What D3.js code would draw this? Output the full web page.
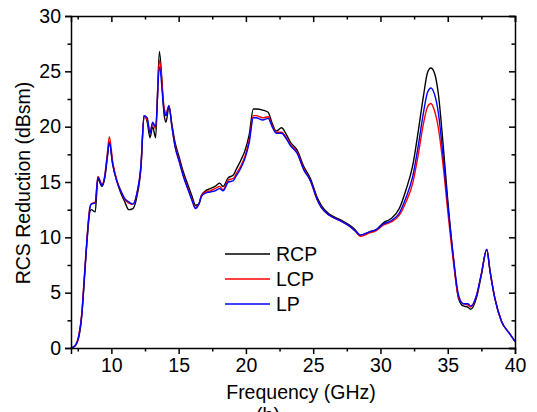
<!DOCTYPE html>
<html>
<head>
<meta charset="utf-8">
<script src="https://cdn.jsdelivr.net/npm/d3@7"></script>
<style>
  body { margin: 0; background: #fff; }
  svg { display: block; font-family: 'Liberation Sans', Arial, sans-serif; }
</style>
</head>
<body>
<div id="rcs-chart"></div>
<script>
'use strict';

// frequency samples (GHz)
const freq = [
  7.0, 7.3, 7.6, 7.8, 8.0, 8.2, 8.4, 8.5, 8.8, 9.0, 9.3, 9.5, 9.7, 9.85, 10.1,
  10.4, 10.7, 11.0, 11.3, 11.6, 11.9, 12.2, 12.43, 12.67, 12.87, 13.07, 13.29, 13.57,
  13.94, 14.06, 14.28, 14.5, 14.73, 15.05, 15.35, 15.7, 16.0, 16.25, 16.5, 16.7,
  17.0, 17.35, 17.7, 18.05, 18.3, 18.7, 19.05, 19.3, 19.6, 19.95, 20.25, 20.55,
  20.75, 21.25, 21.65, 21.95, 22.25, 22.65, 23.0, 23.3, 23.8, 24.3, 24.8, 25.3,
  25.6, 26.2, 27.0, 27.7, 28.1, 28.5, 29.2, 29.7, 30.2, 30.8, 31.4, 31.9, 32.4,
  32.8, 33.2, 33.5, 33.75, 34.0, 34.3, 34.65, 35.0, 35.4, 35.8, 36.15, 36.5, 36.7,
  37.15, 37.5, 37.9, 38.15, 38.5, 39.0, 39.6, 40.0
];

const rcp = [
  0.0, 0.2, 1.1, 2.9, 6.3, 9.8, 12.3, 12.5, 12.3, 15.3, 14.6, 15.3, 17.2, 18.6, 16.6,
  15.1, 14.0, 13.2, 12.5, 12.6, 13.7, 16.3, 21.0, 20.4, 19.0, 20.0, 19.0, 26.8,
  20.9, 20.4, 21.8, 20.2, 18.6, 17.2, 15.9, 14.7, 13.7, 12.9, 13.0, 13.8,
  14.2, 14.4, 14.6, 14.9, 14.6, 15.4, 15.6, 16.2, 16.9, 17.9, 19.3, 21.6,
  21.6, 21.5, 21.3, 20.3, 19.6, 19.9, 19.3, 18.6, 17.9, 16.4, 15.3, 13.6,
  12.9, 12.1, 11.6, 11.1, 10.7, 10.2, 10.5, 10.7, 11.3, 11.7, 12.6, 14.3, 16.5,
  19.5, 22.8, 24.9, 25.3, 24.9, 23.0, 18.5, 13.4, 8.4, 4.5, 3.8, 3.7, 3.5,
  4.6, 6.6, 8.9, 6.9, 4.5, 2.4, 1.3, 0.6
];

const lcp = [
  0.0, 0.2, 1.3, 3.1, 6.6, 10.1, 12.7, 13.0, 13.2, 15.5, 14.8, 15.5, 17.6, 19.1, 16.8,
  15.2, 14.2, 13.4, 13.1, 13.0, 14.0, 16.5, 21.0, 20.6, 19.5, 20.3, 19.8, 26.0,
  21.6, 21.2, 21.9, 20.0, 18.3, 16.9, 15.6, 14.4, 13.4, 12.7, 13.0, 13.8,
  14.1, 14.2, 14.4, 14.6, 14.3, 15.2, 15.3, 15.8, 16.4, 17.4, 18.8, 21.0,
  21.0, 20.8, 20.9, 20.1, 19.5, 19.5, 19.0, 18.4, 17.7, 16.2, 15.1, 13.4,
  12.7, 12.0, 11.5, 11.0, 10.6, 10.1, 10.4, 10.6, 11.1, 11.4, 12.0, 13.2, 14.9,
  17.4, 20.3, 21.8, 22.1, 21.5, 19.9, 16.6, 12.4, 8.0, 4.6, 4.0, 3.9, 3.7,
  4.8, 6.7, 8.9, 6.9, 4.5, 2.4, 1.3, 0.6
];

const lp = [
  0.0, 0.2, 1.2, 3.0, 6.5, 10.0, 12.6, 13.0, 13.1, 15.4, 14.7, 15.4, 17.3, 18.6, 16.6,
  15.1, 14.2, 13.5, 13.2, 13.0, 14.0, 16.5, 21.0, 20.8, 19.4, 20.4, 20.0, 25.4,
  21.3, 21.0, 21.9, 20.0, 18.2, 16.8, 15.5, 14.3, 13.3, 12.6, 13.0, 13.7,
  14.0, 14.1, 14.2, 14.4, 14.2, 15.0, 15.1, 15.6, 16.2, 17.2, 18.6, 20.8,
  20.8, 20.6, 20.75, 20.0, 19.4, 19.4, 18.9, 18.3, 17.6, 16.1, 15.1, 13.4,
  12.7, 12.0, 11.5, 11.0, 10.6, 10.2, 10.5, 10.7, 11.2, 11.5, 12.2, 13.6, 15.5,
  18.2, 21.3, 23.1, 23.5, 23.0, 21.3, 17.4, 13.0, 8.4, 4.8, 4.0, 4.0, 3.8,
  4.8, 6.7, 8.9, 6.9, 4.5, 2.4, 1.3, 0.6
];

const seriesNames = ['RCP', 'LCP', 'LP'];
const seriesColors = ['#000000', '#ff0000', '#0000ff'];
const xTicks = [10, 15, 20, 25, 30, 35, 40];
const xMinorTicks = [7.5, 12.5, 17.5, 22.5, 27.5, 32.5, 37.5];
const yTicks = [0, 5, 10, 15, 20, 25, 30];
const yMinorTicks = [2.5, 7.5, 12.5, 17.5, 22.5, 27.5];

class RcsChart {
  constructor (svgWidth, svgHeight) {
    this.svgWidth = svgWidth;
    this.svgHeight = svgHeight;
    this.plot = {'left': 71, 'right': 515, 'top': 16, 'bottom': 348};
    this.majorLen = 6;
    this.minorLen = 3.5;
    this.initSvg();
  }

  initSvg() {
    this.svg = d3.select('#rcs-chart')
                 .append('svg')
                   .attr('width', this.svgWidth)
                   .attr('height', this.svgHeight);
    this.x = d3.scaleLinear().domain([7, 40]).range([this.plot.left, this.plot.right]);
    this.y = d3.scaleLinear().domain([0, 30]).range([this.plot.bottom, this.plot.top]);
  }

  // one axis = major ticks with labels plus unlabelled minor ticks
  addAxis(axisFn, scale, tickVals, minorVals, translate, withLabels, inward) {
    const g = this.svg.append('g').attr('transform', translate);
    const major = axisFn(scale).tickValues(tickVals)
                               .tickSize(inward ? -this.majorLen : this.majorLen)
                               .tickPadding(inward ? 0 : 4);
    if (!withLabels) { major.tickFormat(''); }
    g.call(major);
    const minor = axisFn(scale).tickValues(minorVals)
                               .tickSize(inward ? -this.minorLen : this.minorLen)
                               .tickFormat('');
    g.append('g').call(minor).select('.domain').remove();
    g.selectAll('path, line').attr('stroke', '#000').attr('stroke-width', 1.5);
    g.selectAll('text').attr('font-size', '19.5px').attr('fill', '#000')
     .attr('font-family', "'Liberation Sans', Arial, sans-serif");
    return g;
  }

  drawAxes() {
    const p = this.plot;
    this.addAxis(d3.axisBottom, this.x, xTicks, xMinorTicks, `translate(0,${p.bottom})`, true, false);
    this.addAxis(d3.axisTop, this.x, xTicks, xMinorTicks, `translate(0,${p.top})`, false, true);
    this.addAxis(d3.axisLeft, this.y, yTicks, yMinorTicks, `translate(${p.left},0)`, true, false);
    this.addAxis(d3.axisRight, this.y, yTicks, yMinorTicks, `translate(${p.right},0)`, false, true);

    this.svg.append('text')
      .attr('x', 301).attr('y', 399)
      .attr('text-anchor', 'middle')
      .attr('font-size', '19.5px')
      .text('Frequency (GHz)');

    this.svg.append('text')
      .attr('transform', 'translate(29.5,183) rotate(-90)')
      .attr('text-anchor', 'middle')
      .attr('font-size', '19.5px')
      .text('RCS Reduction (dBsm)');

    // sub-figure caption, cut off by the bottom edge
    this.svg.append('text')
      .attr('x', 268).attr('y', 422)
      .attr('text-anchor', 'middle')
      .attr('font-size', '19.5px')
      .text('(b)');
  }

  drawCurves() {
    const all = [rcp, lcp, lp];
    const line = d3.line()
                   .x(d => this.x(d[0]))
                   .y(d => this.y(d[1]))
                   .curve(d3.curveMonotoneX);
    this.svg.append('g').selectAll('path')
      .data(all.map(vals => freq.map((f, i) => [f, vals[i]])))
      .enter()
      .append('path')
        .attr('d', line)
        .attr('fill', 'none')
        .attr('stroke', (d, i) => seriesColors[i])
        .attr('stroke-width', 1.4)
        .attr('stroke-linejoin', 'round');
  }

  drawLegend() {
    const legendY = [254, 279, 304];
    const g = this.svg.append('g');
    const items = g.selectAll('g')
                   .data(seriesNames)
                   .enter()
                   .append('g')
                     .attr('transform', (d, i) => `translate(225,${legendY[i]})`);
    items.append('line')
         .attr('x1', 0).attr('x2', 45)
         .attr('stroke', (d, i) => seriesColors[i])
         .attr('stroke-width', 1.5);
    items.append('text')
         .attr('x', 51).attr('dy', '0.35em')
         .attr('font-size', '19.5px')
         .text(d => d);
  }
}

let chart = new RcsChart(537, 412);
chart.drawCurves();
chart.drawAxes();
chart.drawLegend();
</script>
</body>
</html>
